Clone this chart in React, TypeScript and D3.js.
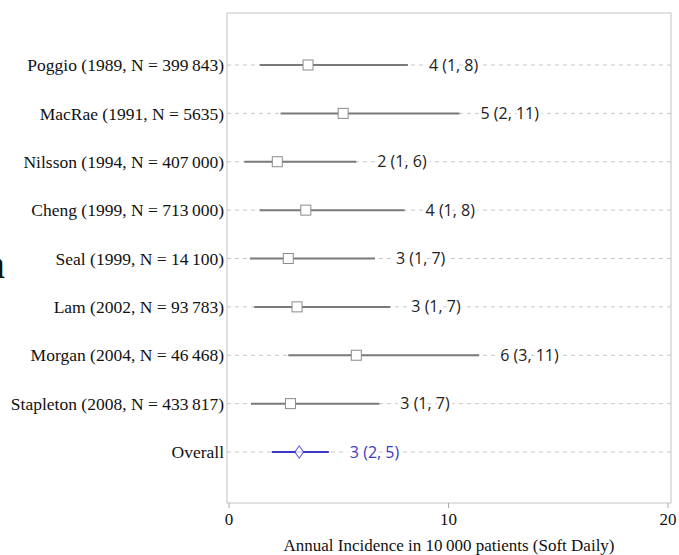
import React from "react";
import * as d3 from "d3";

const studies = [
  "Poggio (1989, N = 399\u2009843)",
  "MacRae (1991, N = 5635)",
  "Nilsson (1994, N = 407\u2009000)",
  "Cheng (1999, N = 713\u2009000)",
  "Seal (1999, N = 14\u2009100)",
  "Lam (2002, N = 93\u2009783)",
  "Morgan (2004, N = 46\u2009468)",
  "Stapleton (2008, N = 433\u2009817)",
  "Overall",
];
const estimates = [3.6, 5.2, 2.2, 3.5, 2.7, 3.1, 5.8, 2.8, 3.2];
const lower = [1.4, 2.35, 0.7, 1.4, 0.95, 1.15, 2.7, 1.0, 1.95];
const upper = [8.15, 10.5, 5.8, 8.0, 6.65, 7.35, 11.4, 6.85, 4.55];
const ciLabels = [
  "4 (1, 8)", "5 (2, 11)", "2 (1, 6)", "4 (1, 8)", "3 (1, 7)",
  "3 (1, 7)", "6 (3, 11)", "3 (1, 7)", "3 (2, 5)",
];
const xTicks = [0, 10, 20];
const xTitle = "Annual Incidence in 10\u2009000 patients (Soft Daily)";

const W = 679;
const H = 555;
const frame = { left: 227, right: 671, top: 13, bottom: 503 };
const serif = "'Liberation Serif', 'Times New Roman', serif";
const sans = "'Open Sans', 'DejaVu Sans', sans-serif";
const grey = "#7a7a7a";
const blue = "#3b3bc4";

export default function App() {
  const x = d3.scaleLinear().domain([0, 20]).range([229, 668]);
  const y = d3.scalePoint<string>().domain(studies).range([65, 452]);

  const rows = studies.map((s, i) => ({
    name: s,
    est: estimates[i],
    lo: lower[i],
    hi: upper[i],
    label: ciLabels[i],
    overall: s === "Overall",
  }));

  const diamond = d3.symbol().type(d3.symbolDiamond).size(60)();

  return (
    <svg width={W} height={H} style={{ position: "absolute", left: 0, top: 0 }}>
      <rect width={W} height={H} fill="#fff" />
      {/* cut-off panel letter on the far left */}
      <text x={5} y={278} textAnchor="end" fontFamily={serif} fontSize={40} fill="#111">a</text>

      <rect x={frame.left} y={frame.top} width={frame.right - frame.left}
        height={frame.bottom - frame.top} fill="none" stroke="#c4c4c4" strokeWidth={1} />

      {rows.map(r => (
        <line key={"g" + r.name} x1={frame.left} x2={frame.right} y1={y(r.name)} y2={y(r.name)}
          stroke="#c8c8c8" strokeWidth={1} strokeDasharray="4,4" />
      ))}

      {rows.map(r => {
        const yy = y(r.name)!;
        const c = r.overall ? blue : grey;
        return (
          <g key={r.name}>
            <text x={frame.left - 3} y={yy} dy="0.35em" textAnchor="end" fontFamily={serif}
              fontSize={17.5} fill="#111" stroke="#fff" strokeWidth={4} paintOrder="stroke">{r.name}</text>
            <line x1={x(r.lo)} x2={x(r.hi)} y1={yy} y2={yy} stroke={c} strokeWidth={2} />
            {r.overall
              ? <path d={diamond!} transform={`translate(${x(r.est)},${yy}) scale(1.05,0.85)`}
                  fill="#fff" stroke={c} strokeWidth={1} opacity={0.85} />
              : <rect x={x(r.est) - 5} y={yy - 5} width={10} height={10}
                  fill="#fff" stroke="#8a8a8a" strokeWidth={1} />}
            <text x={x(r.hi) + 21} y={yy} dy="0.35em" fontFamily={sans} fontSize={16}
              fill={r.overall ? blue : "#222"} stroke="#fff" strokeWidth={6} paintOrder="stroke">{r.label}</text>
          </g>
        );
      })}

      {xTicks.map(t => (
        <g key={t} transform={`translate(${x(t)},${frame.bottom})`}>
          <line y1={0} y2={5} stroke="#aaa" />
          <text y={22} textAnchor="middle" fontFamily={serif} fontSize={17} fill="#111">{t}</text>
        </g>
      ))}
      <text x={(frame.left + frame.right) / 2} y={551} textAnchor="middle" fontFamily={serif}
        fontSize={17} fill="#111">{xTitle}</text>
    </svg>
  );
}
